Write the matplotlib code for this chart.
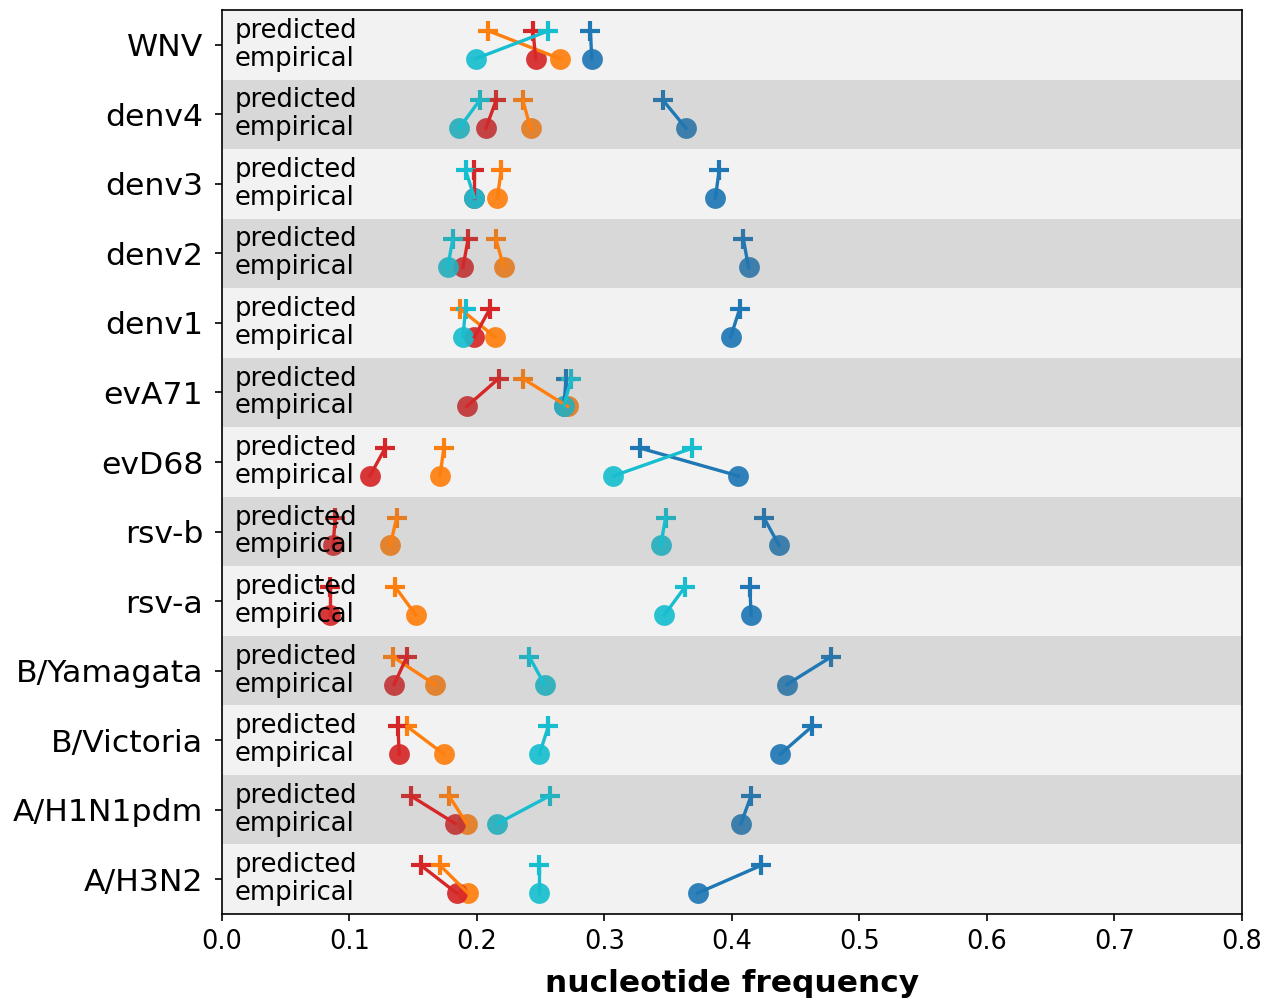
from __future__ import annotations

import matplotlib

matplotlib.use("Agg")
import matplotlib.pyplot as plt


VIRUSES = [
    "WNV", "denv4", "denv3", "denv2", "denv1", "evA71", "evD68",
    "rsv-b", "rsv-a", "B/Yamagata", "B/Victoria", "A/H1N1pdm", "A/H3N2",
]

# predicted vs empirical frequency per nucleotide, one entry per virus (same order as VIRUSES)
A_PRED = [0.289, 0.346, 0.390, 0.409, 0.406, 0.270, 0.328, 0.425, 0.414, 0.478, 0.463, 0.415, 0.423]
A_EMP = [0.290, 0.364, 0.387, 0.413, 0.399, 0.268, 0.405, 0.437, 0.415, 0.443, 0.438, 0.407, 0.373]
C_PRED = [0.209, 0.236, 0.219, 0.215, 0.187, 0.236, 0.174, 0.137, 0.136, 0.134, 0.145, 0.178, 0.171]
C_EMP = [0.265, 0.242, 0.216, 0.221, 0.214, 0.271, 0.171, 0.132, 0.152, 0.167, 0.174, 0.192, 0.193]
G_PRED = [0.244, 0.215, 0.198, 0.193, 0.210, 0.217, 0.128, 0.089, 0.085, 0.145, 0.138, 0.148, 0.156]
G_EMP = [0.246, 0.207, 0.198, 0.189, 0.198, 0.192, 0.116, 0.087, 0.085, 0.135, 0.139, 0.183, 0.184]
T_PRED = [0.256, 0.202, 0.191, 0.181, 0.191, 0.274, 0.369, 0.348, 0.363, 0.241, 0.256, 0.257, 0.249]
T_EMP = [0.199, 0.186, 0.198, 0.177, 0.189, 0.268, 0.307, 0.344, 0.347, 0.253, 0.249, 0.216, 0.249]

SERIES = [
    ("A", A_PRED, A_EMP, "tab:blue"),
    ("C", C_PRED, C_EMP, "tab:orange"),
    ("G", G_PRED, G_EMP, "tab:red"),
    ("T", T_PRED, T_EMP, "tab:cyan"),
]

OFFSET = 0.2  # vertical split between predicted (+) and empirical (o) within a row


def main() -> None:
    fig = plt.figure(figsize=(8.5, 6.68), dpi=150)
    ax = fig.add_axes([0.1741, 0.0878, 0.8, 0.9022])
    ax.set_facecolor("#f2f2f2")

    rows = list(range(len(VIRUSES)))

    for row in rows:
        if row % 2 == 1:
            ax.axhspan(row - 0.5, row + 0.5, color="0.45", alpha=0.2, lw=0, zorder=1.5)
        ax.text(0.01, row - OFFSET, "predicted", fontsize=12.4, va="center", ha="left", zorder=3)
        ax.text(0.01, row + OFFSET, "empirical", fontsize=12.4, va="center", ha="left", zorder=3)

    for name, pred, emp, color in SERIES:
        ax.plot(pred, [r - OFFSET for r in rows], ls="none", marker="+", ms=9.5, mew=2.0,
                color=color, zorder=1.2)
        ax.plot(emp, [r + OFFSET for r in rows], ls="none", marker="o", ms=10,
                color=color, alpha=0.92, mec="none", zorder=1.1)
        for r, p, e in zip(rows, pred, emp):
            ax.plot([p, e], [r - OFFSET, r + OFFSET], color=color, lw=1.6, zorder=2)

    ax.set_xlim(0.0, 0.8)
    ax.set_ylim(len(VIRUSES) - 0.5, -0.5)
    ax.set_yticks(rows)
    ax.set_yticklabels(VIRUSES, fontsize=15.1)
    ax.tick_params(axis="y", pad=5.5)
    ax.set_xticks([0.0, 0.1, 0.2, 0.3, 0.4, 0.5, 0.6, 0.7, 0.8])
    ax.tick_params(axis="x", labelsize=12.3)
    ax.set_xlabel("nucleotide frequency", fontsize=15, fontweight="bold", labelpad=7)

    fig.savefig("out.png", dpi=150)
    plt.close(fig)


if __name__ == "__main__":
    main()
